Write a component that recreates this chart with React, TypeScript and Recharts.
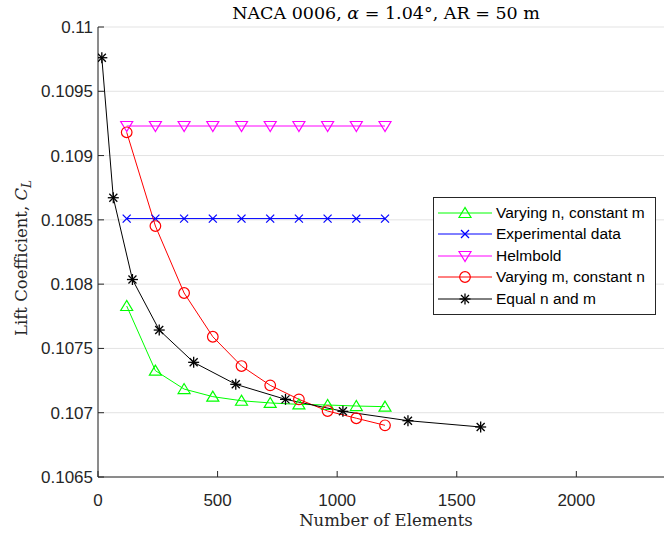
import React from 'react'
import { LineChart, Line, XAxis, YAxis, CartesianGrid } from 'recharts'

// element counts used by the runs
const elemsFixed = [120, 240, 360, 480, 600, 720, 840, 960, 1080, 1200]
const elemsEqual = [16, 64, 144, 256, 400, 576, 784, 1024, 1296, 1600]

// lift coefficient per run
const varyingN = [0.10783, 0.107327, 0.107184, 0.107125, 0.107093, 0.107076, 0.107065, 0.10706, 0.107052, 0.107047]
const experimental = [0.10851, 0.10851, 0.10851, 0.10851, 0.10851, 0.10851, 0.10851, 0.10851, 0.10851, 0.10851]
const helmbold = [0.10923, 0.10923, 0.10923, 0.10923, 0.10923, 0.10923, 0.10923, 0.10923, 0.10923, 0.10923]
const varyingM = [0.109181, 0.108452, 0.107931, 0.107591, 0.107363, 0.107213, 0.107104, 0.107013, 0.106957, 0.106902]
const equalNM = [0.109761, 0.108672, 0.108036, 0.107643, 0.107392, 0.107221, 0.107104, 0.107011, 0.106938, 0.106889]

const xTicks = [0, 500, 1000, 1500, 2000]
const yTicks = [0.1065, 0.107, 0.1075, 0.108, 0.1085, 0.109, 0.1095, 0.11]

const toRows = (xs: number[], ys: number[]) => xs.map((x, i) => ({ x, y: ys[i] }))

type Shape = 'tri' | 'x' | 'tridown' | 'circle' | 'star'

const series: { name: string; color: string; shape: Shape; rows: { x: number; y: number }[] }[] = [
  { name: 'Varying n, constant m', color: '#00ff00', shape: 'tri', rows: toRows(elemsFixed, varyingN) },
  { name: 'Experimental data', color: '#0000ff', shape: 'x', rows: toRows(elemsFixed, experimental) },
  { name: 'Helmbold', color: '#ff00ff', shape: 'tridown', rows: toRows(elemsFixed, helmbold) },
  { name: 'Varying m, constant n', color: '#ff0000', shape: 'circle', rows: toRows(elemsFixed, varyingM) },
  { name: 'Equal n and m', color: '#000000', shape: 'star', rows: toRows(elemsEqual, equalNM) },
]

const AXIS = '#262626'
const SANS = '"Liberation Sans", Arial, sans-serif'
const SERIF = '"DejaVu Serif", serif'

const Marker = ({ cx, cy, shape, color }: { cx: number; cy: number; shape: Shape; color: string }) => {
  const common = { stroke: color, strokeWidth: 1.2, fill: 'none' }
  if (shape === 'tri')
    return <polygon {...common} points={`${cx},${cy - 5.5} ${cx - 6},${cy + 4.5} ${cx + 6},${cy + 4.5}`} />
  if (shape === 'tridown')
    return <polygon {...common} points={`${cx},${cy + 5.5} ${cx - 6},${cy - 4.5} ${cx + 6},${cy - 4.5}`} />
  if (shape === 'circle') return <circle {...common} cx={cx} cy={cy} r={5.3} />
  if (shape === 'x')
    return (
      <g {...common}>
        <line x1={cx - 4} y1={cy - 4} x2={cx + 4} y2={cy + 4} />
        <line x1={cx - 4} y1={cy + 4} x2={cx + 4} y2={cy - 4} />
      </g>
    )
  return (
    <g {...common} strokeWidth={1.3}>
      <line x1={cx - 5.5} y1={cy} x2={cx + 5.5} y2={cy} />
      <line x1={cx} y1={cy - 5.5} x2={cx} y2={cy + 5.5} />
      <line x1={cx - 4} y1={cy - 4} x2={cx + 4} y2={cy + 4} />
      <line x1={cx - 4} y1={cy + 4} x2={cx + 4} y2={cy - 4} />
    </g>
  )
}

const makeDot = (shape: Shape, color: string) => (p: any) =>
  <Marker key={`m-${p.index}`} cx={p.cx} cy={p.cy} shape={shape} color={color} />

const fmtY = (v: number) => String(Number(v.toFixed(4)))

const XTick = ({ x, y, payload }: any) => (
  <g>
    <line x1={x} x2={x} y1={y} y2={y - 6} stroke={AXIS} />
    <text x={x} y={y + 29} textAnchor="middle" fontFamily={SANS} fontSize={17} fill={AXIS}>
      {payload.value}
    </text>
  </g>
)

const TopTick = ({ x, y }: any) => <line x1={x} x2={x} y1={y} y2={y + 6} stroke={AXIS} />

const YTick = ({ x, y, payload }: any) => (
  <g>
    <line x1={x} x2={x + 6} y1={y} y2={y} stroke={AXIS} />
    <text x={x - 5} y={y + 6} textAnchor="end" fontFamily={SANS} fontSize={17} fill={AXIS}>
      {fmtY(payload.value)}
    </text>
  </g>
)

const LegendBox = () => (
  <div
    style={{
      position: 'absolute',
      left: 433,
      top: 197,
      border: `1px solid ${AXIS}`,
      background: '#fff',
      width: 221,
      padding: '4px 0 4px 0',
      fontFamily: SANS,
      fontSize: 15.5,
      color: '#000',
    }}
  >
    {series.map((s) => (
      <div key={s.name} style={{ display: 'flex', alignItems: 'center', height: 21.5 }}>
        <svg width={62} height={20} style={{ flex: 'none' }}>
          <line x1={4} x2={58} y1={10} y2={10} stroke={s.color} strokeWidth={1} />
          <Marker cx={31} cy={10} shape={s.shape} color={s.color} />
        </svg>
        <span style={{ whiteSpace: 'nowrap' }}>{s.name}</span>
      </div>
    ))}
  </div>
)

export default function App() {
  return (
    <div style={{ position: 'absolute', left: 0, top: 0, width: 664, height: 537, overflow: 'hidden', background: '#fff' }}>
      <LineChart width={672} height={537} margin={{ top: 27, right: 0, bottom: 0, left: 0 }}>
        <CartesianGrid stroke="#e3e3e3" strokeWidth={1} vertical horizontal />
        <XAxis
          xAxisId="b"
          dataKey="x"
          type="number"
          domain={[0, 2400]}
          ticks={xTicks}
          height={60}
          tickSize={0}
          tickMargin={0}
          tickLine={false}
          axisLine={{ stroke: AXIS }}
          tick={<XTick />}
          allowDataOverflow
        />
        <XAxis
          xAxisId="t"
          orientation="top"
          dataKey="x"
          type="number"
          domain={[0, 2400]}
          ticks={xTicks}
          height={0}
          tickSize={0}
          tickMargin={0}
          tickLine={false}
          axisLine={{ stroke: AXIS }}
          tick={<TopTick />}
          allowDataOverflow
        />
        <YAxis
          dataKey="y"
          type="number"
          domain={[0.1065, 0.11]}
          ticks={yTicks}
          width={98}
          tickSize={0}
          tickMargin={0}
          tickLine={false}
          axisLine={{ stroke: AXIS }}
          tick={<YTick />}
          interval={0}
          allowDataOverflow
        />
        {series.map((s) => (
          <Line
            key={s.name}
            xAxisId="b"
            data={s.rows}
            dataKey="y"
            name={s.name}
            stroke={s.color}
            strokeWidth={1}
            dot={makeDot(s.shape, s.color)}
            activeDot={false}
            isAnimationActive={false}
          />
        ))}
      </LineChart>
      <LegendBox />
      <svg width={664} height={537} style={{ position: 'absolute', left: 0, top: 0, pointerEvents: 'none' }}>
        <text x={386} y={19} textAnchor="middle" fontFamily={SERIF} fontSize={17.5} fill="#000">
          NACA 0006, <tspan fontStyle="italic">α</tspan> = 1.04°, AR = 50 m
        </text>
        <text x={386} y={526} textAnchor="middle" fontFamily={SERIF} fontSize={16.5} fill={AXIS}>
          Number of Elements
        </text>
        <text
          x={27}
          y={258}
          textAnchor="middle"
          transform="rotate(-90, 27, 258)"
          fontFamily={SERIF}
          fontSize={16.5}
          fill={AXIS}
        >
          Lift Coefficient, <tspan fontStyle="italic">C</tspan>
          <tspan fontStyle="italic" fontSize={12} dy={4}>L</tspan>
        </text>
      </svg>
    </div>
  )
}
